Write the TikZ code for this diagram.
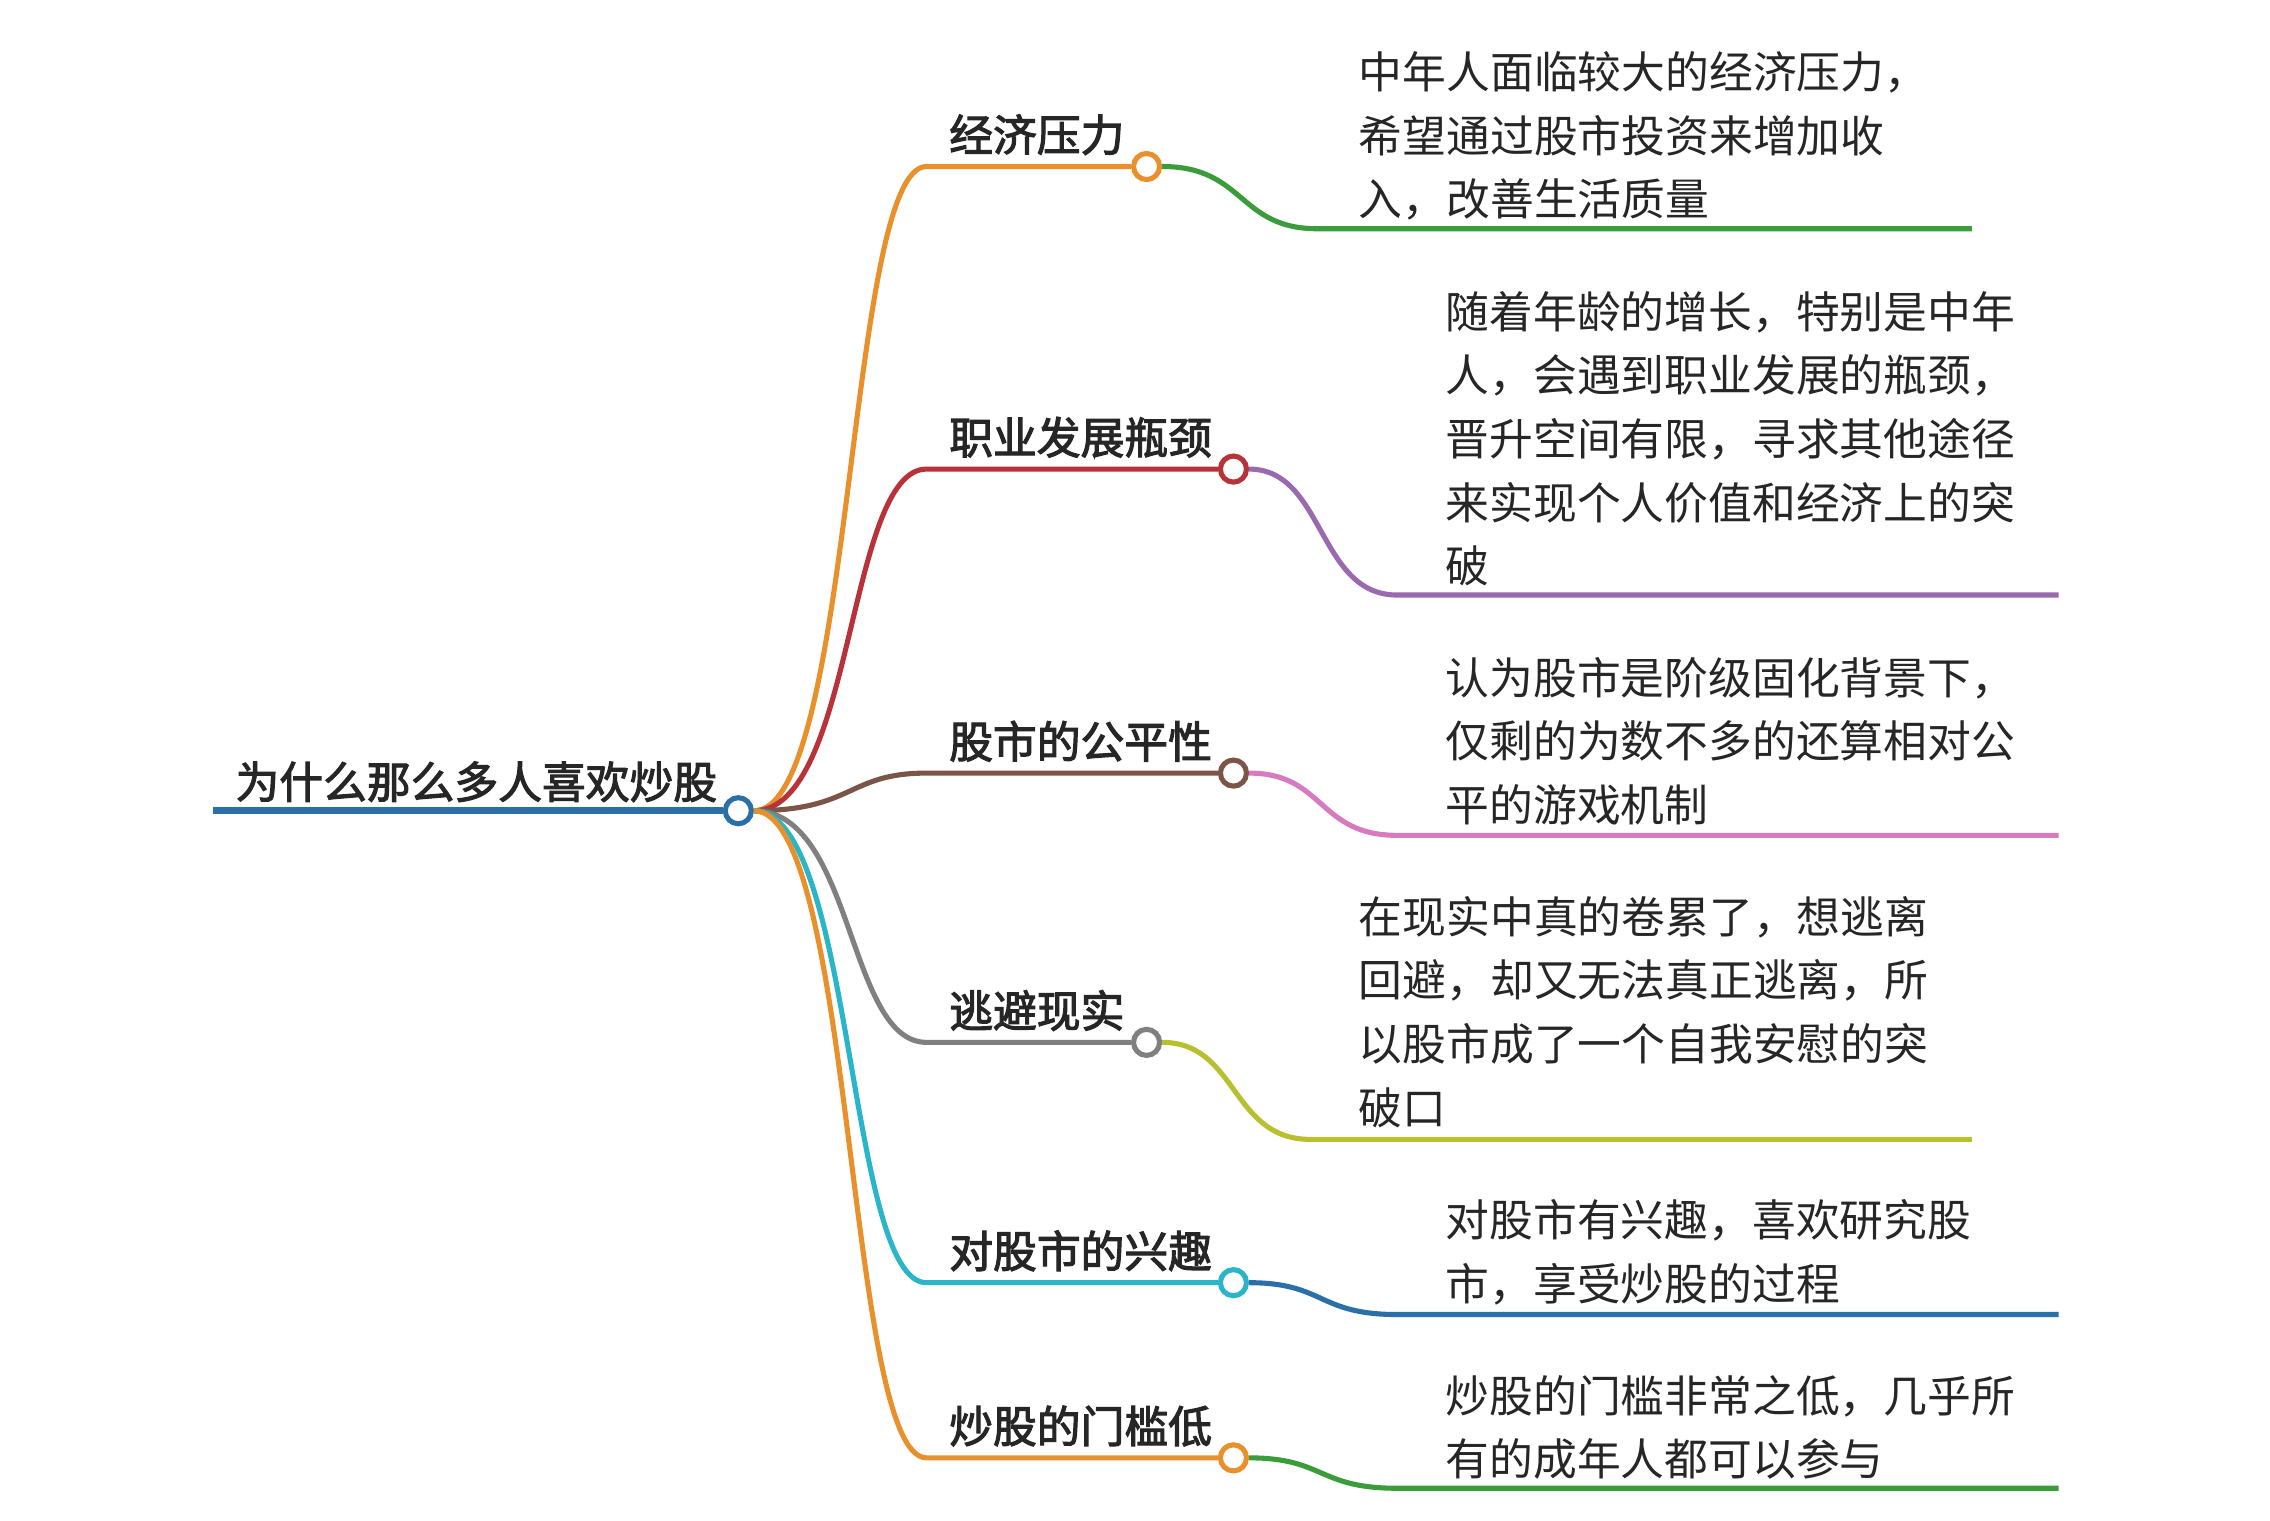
\documentclass[tikz,border=0pt]{standalone}
\usepackage{fontspec}
\setmainfont{Noto Sans CJK SC}[AutoFakeBold=2.5]
\definecolor{cblue}{HTML}{2A6FA8}
\definecolor{corange}{HTML}{E8912C}
\definecolor{cred}{HTML}{B8323A}
\definecolor{cbrown}{HTML}{7A5548}
\definecolor{cgrey}{HTML}{808080}
\definecolor{ccyan}{HTML}{2BB5C8}
\definecolor{cgreen}{HTML}{3A9C3A}
\definecolor{cpurple}{HTML}{9A6AB0}
\definecolor{cpink}{HTML}{D87AC0}
\definecolor{colive}{HTML}{B8C030}
\tikzset{
  dot/.style={circle,draw=#1,fill=white,line width=1pt,inner sep=0pt,minimum size=0.18cm},
  ln/.style={line width=1pt,draw=#1},
  title/.style={anchor=west,inner sep=0pt,font=\fontsize{8.6pt}{10pt}\selectfont\bfseries,text=black!85},
  leaf/.style={anchor=west,inner sep=0pt,font=\fontsize{8.6pt}{12.5pt}\selectfont,text=black!85,align=left},
}
\begin{document}
\begin{tikzpicture}[x=0.01cm,y=-0.01cm]
\useasboundingbox (0,0) rectangle (1568,1050);
\fill[white] (0,0) rectangle (1568,1050);
% root
\coordinate (rs) at (147,560);
\node[dot=cblue] (root) at (510,560) {};
\draw[ln=cblue,line width=1.3pt] (rs) -- (root.west);
\node[title] (rt) at (162,540) {为什么那么多人喜欢炒股};
% branches
\foreach \n/\y/\cx/\c/\t in {a/115/792/corange/经济压力, b/324/852/cred/职业发展瓶颈, c/534/852/cbrown/股市的公平性, d/720/792/cgrey/逃避现实, e/886/852/ccyan/对股市的兴趣, f/1007/852/corange/炒股的门槛低}{
  \coordinate (k\n) at (640,\y);
  \node[dot=\c] (\n) at (\cx,\y) {};
  \draw[ln=\c] (root.east) .. controls (590,560) and (585,\y) .. (k\n) -- (\n.west);
  \node[title] (t\n) at (655,\y-22) {\t};
}
% leaves
\foreach \n/\y/\x/\cy/\ex/\c in {a/115/910/158/1362/cgreen, b/324/965/411/1422/cpurple, c/534/965/577/1422/cpink, d/720/905/787/1362/colive, e/886/965/908/1422/cblue, f/1007/965/1028/1422/cgreen}{
  \coordinate (s\n) at (\x,\cy);
  \coordinate (e\n) at (\ex,\cy);
  \draw[ln=\c] (\n.east) .. controls (\x-50,\y) and (\x-55,\cy) .. (s\n) -- (e\n);
}
\node[leaf] (la) at (938,94) {中年人面临较大的经济压力，\\希望通过股市投资来增加收\\入，改善生活质量};
\node[leaf] (lb) at (998,303) {随着年龄的增长，特别是中年\\人，会遇到职业发展的瓶颈，\\晋升空间有限，寻求其他途径\\来实现个人价值和经济上的突\\破};
\node[leaf] (lc) at (998,512) {认为股市是阶级固化背景下，\\仅剩的为数不多的还算相对公\\平的游戏机制};
\node[leaf] (ld) at (938,699) {在现实中真的卷累了，想逃离\\回避，却又无法真正逃离，所\\以股市成了一个自我安慰的突\\破口};
\node[leaf] (le) at (998,865) {对股市有兴趣，喜欢研究股\\市，享受炒股的过程};
\node[leaf] (lf) at (998,986) {炒股的门槛非常之低，几乎所\\有的成年人都可以参与};
\end{tikzpicture}
\end{document}
